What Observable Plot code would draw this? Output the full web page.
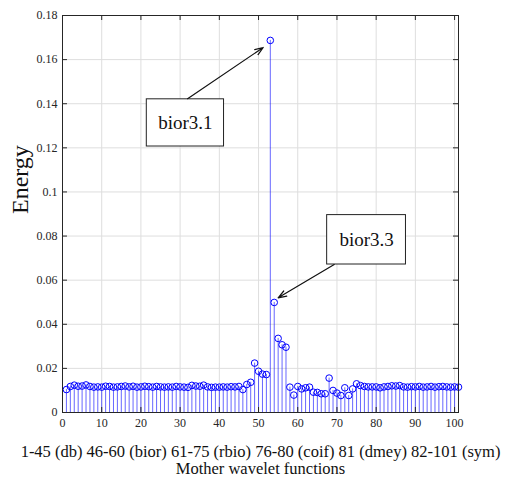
<!DOCTYPE html>
<html><head><meta charset="utf-8">
<script src="https://cdn.jsdelivr.net/npm/d3@7"></script>
<script src="https://cdn.jsdelivr.net/npm/@observablehq/plot@0.6"></script>
<style>body{margin:0;background:#fff}</style>
</head><body><div id="chart"></div>
<script>
const waveletIndex = d3.range(1, 102);
const energy = [
0.0104,0.0118,0.0124,0.0119,0.0120,0.0125,0.0118,0.0115,0.0116,0.0115,
0.0119,0.0118,0.0115,0.0116,0.0118,0.0120,0.0116,0.0119,0.0115,0.0116,
0.0119,0.0117,0.0115,0.0118,0.0116,0.0115,0.0116,0.0115,0.0118,0.0116,
0.0115,0.0114,0.0123,0.0120,0.0119,0.0124,0.0116,0.0114,0.0115,0.0115,
0.0116,0.0115,0.0117,0.0116,0.0118,0.0104,0.0127,0.0137,0.0224,0.0187,
0.0174,0.0172,0.1687,0.0499,0.0336,0.0307,0.0296,0.0115,0.0079,0.0118,
0.0107,0.0112,0.0115,0.0092,0.0091,0.0085,0.0085,0.0156,0.0100,0.0088,
0.0077,0.0112,0.0077,0.0107,0.0130,0.0122,0.0118,0.0116,0.0116,0.0116,
0.0112,0.0116,0.0118,0.0121,0.0120,0.0122,0.0116,0.0115,0.0117,0.0116,
0.0118,0.0115,0.0116,0.0118,0.0115,0.0117,0.0118,0.0116,0.0115,0.0116,
0.0115];
const xTicks = d3.range(0, 101, 10);
const yTicks = [0,0.02,0.04,0.06,0.08,0.1,0.12,0.14,0.16,0.18];
const annLabels = ["bior3.1", "bior3.3"];
const annBoxX1 = [21.5, 67.5], annBoxX2 = [41.2, 87.6];
const annBoxY1 = [0.1206, 0.0671], annBoxY2 = [0.1420, 0.0895];
const annArrowX1 = [31.9, 69.3], annArrowY1 = [0.1423, 0.0671];
const annArrowX2 = [51.2, 55.0], annArrowY2 = [0.1655, 0.0520];
const xLabelLines = ["1-45 (db) 46-60 (bior) 61-75 (rbio) 76-80 (coif) 81 (dmey) 82-101 (sym)", "Mother wavelet functions"];
const yLabel = "Energy";

const data = waveletIndex.map((i, k) => ({i, e: energy[k]}));
const ann = annLabels.map((t, k) => ({t, x1: annBoxX1[k], x2: annBoxX2[k], y1: annBoxY1[k], y2: annBoxY2[k],
  ax1: annArrowX1[k], ay1: annArrowY1[k], ax2: annArrowX2[k], ay2: annArrowY2[k]}));

const serif = "Liberation Serif";
const yFmt = d => d === 0 ? "0" : String(+d.toFixed(2));
const xmax = 101, ymax = 0.18;
const plot = Plot.plot({
  width: 518, height: 484,
  marginLeft: 62, marginRight: 60, marginTop: 15, marginBottom: 72,
  style: {fontFamily: serif, fontSize: "12px", color: "#262626", background: "#fff"},
  x: {domain: [0, xmax]},
  y: {domain: [0, ymax]},
  marks: [
    Plot.ruleX(xTicks, {stroke: "#dedede", strokeWidth: 1}),
    Plot.ruleY(yTicks, {stroke: "#dedede", strokeWidth: 1}),
    Plot.axisX({ticks: xTicks, tickFormat: d3.format("d"), tickSize: 0, tickPadding: 6, label: null, fontSize: 12, fontFamily: serif}),
    Plot.axisY({ticks: yTicks, tickFormat: yFmt, tickSize: 0, tickPadding: 5, label: null, fontSize: 12, fontFamily: serif}),
    Plot.ruleX(data, {x: "i", y1: 0, y2: "e", stroke: "blue", strokeOpacity: 0.6, strokeWidth: 1}),
    Plot.dot(data, {x: "i", y: "e", r: 3.3, stroke: "blue", fill: "none", strokeWidth: 1}),
    // inward ticks on all four sides
    Plot.ruleY(yTicks, {x1: 0, x2: xmax * 0.0126, stroke: "#262626"}),
    Plot.ruleY(yTicks, {x1: xmax * (1 - 0.0126), x2: xmax, stroke: "#262626"}),
    Plot.ruleX(xTicks, {y1: 0, y2: ymax * 0.0126, stroke: "#262626"}),
    Plot.ruleX(xTicks, {y1: ymax * (1 - 0.0126), y2: ymax, stroke: "#262626"}),
    Plot.frame({stroke: "#262626"}),
    Plot.rect(ann, {x1: "x1", x2: "x2", y1: "y1", y2: "y2", fill: "white", stroke: "#222", strokeWidth: 1}),
    Plot.text(ann, {x: d => (d.x1 + d.x2) / 2, y: d => (d.y1 + d.y2) / 2, text: "t", fontSize: 19, fill: "#111", fontFamily: serif}),
    Plot.arrow(ann, {x1: "ax1", y1: "ay1", x2: "ax2", y2: "ay2", stroke: "#111", strokeWidth: 1.2, headLength: 11, headAngle: 40}),
    Plot.text([xLabelLines[0]], {frameAnchor: "bottom", dy: 44, fontSize: 16.5, fill: "#111", fontFamily: serif}),
    Plot.text([xLabelLines[1]], {frameAnchor: "bottom", dy: 61, fontSize: 16.5, fill: "#111", fontFamily: serif}),
    Plot.text([yLabel], {frameAnchor: "left", dx: -42, rotate: -90, fontSize: 24, fill: "#111", fontFamily: serif})
  ]
});
document.getElementById("chart").append(plot);
</script>
</body></html>
